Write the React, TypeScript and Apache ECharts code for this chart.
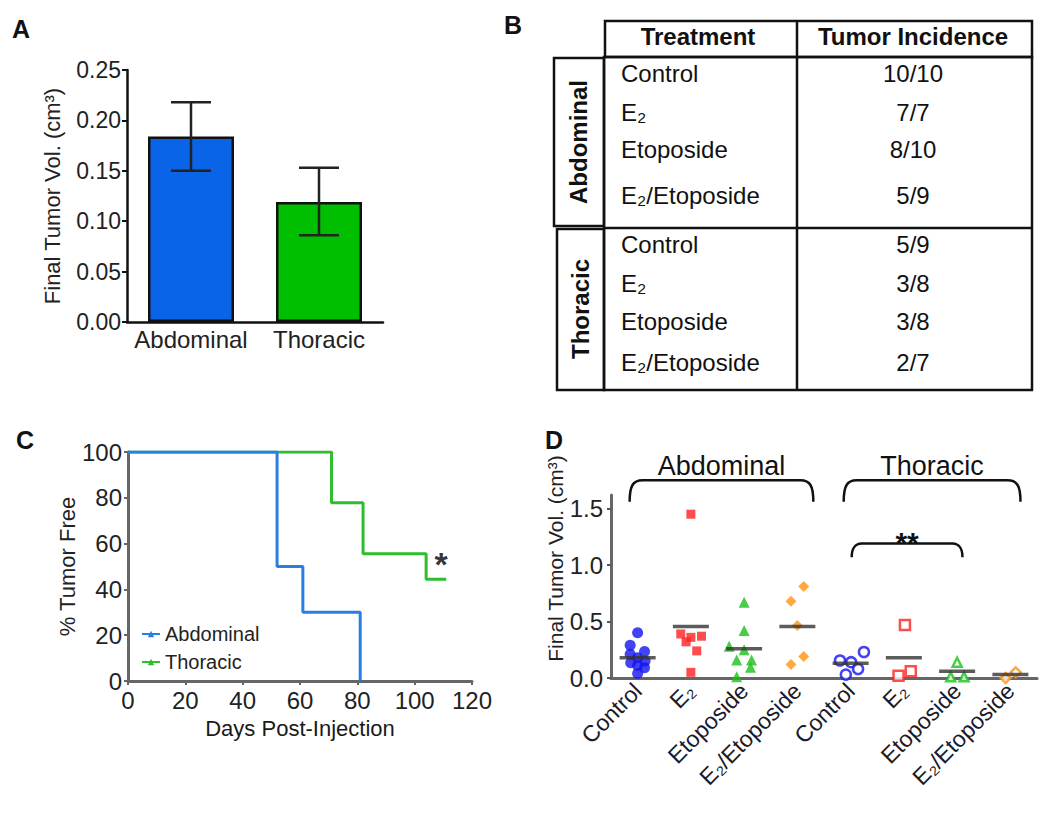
import React, { useEffect, useRef } from "react";
import * as echarts from "echarts";

const FONT = "'Liberation Sans', Arial, Helvetica, sans-serif";

// ---------- Panel A: final tumor volume by site ----------
const siteCategories = ["Abdominal", "Thoracic"];
const siteMeanVolume = [0.184, 0.119];
const siteErrLow = [0.15, 0.086];
const siteErrHigh = [0.218, 0.153];
const siteColors = ["#0a64e8", "#00be00"];

// ---------- Panel B: tumor incidence table ----------
const tableHeaders = ["Treatment", "Tumor Incidence"];
const tableGroups = ["Abdominal", "Thoracic"];
const tableTreatments = ["Control", "E₂", "Etoposide", "E₂/Etoposide"];
const abdominalIncidence = ["10/10", "7/7", "8/10", "5/9"];
const thoracicIncidence = ["5/9", "3/8", "3/8", "2/7"];

// ---------- Panel C: % tumor free over time ----------
const abdominalDays = [0, 52, 61, 81];
const abdominalFree = [100, 50, 30, 0];
const thoracicDays = [0, 71, 82, 104, 111];
const thoracicFree = [100, 77.8, 55.6, 44.4, 44.4];
const starPoint = [109.2, 51];

// ---------- Panel D: final tumor volume per treatment ----------
const groupLabels = ["Control", "E₂", "Etoposide", "E₂/Etoposide", "Control", "E₂", "Etoposide", "E₂/Etoposide"];
const volAbdControl = [0.4, 0.29, 0.235, 0.21, 0.18, 0.15, 0.135, 0.11, 0.09, 0.04];
const jitAbdControl = [0, -0.14, 0.13, -0.14, 0, 0.14, -0.13, 0, 0.13, 0];
const volAbdE2 = [1.45, 0.39, 0.37, 0.36, 0.32, 0.24, 0.05];
const jitAbdE2 = [0, -0.19, 0.2, 0, -0.09, 0.11, 0];
const volAbdEto = [0.67, 0.42, 0.28, 0.25, 0.16, 0.16, 0.095, 0.01];
const jitAbdEto = [0, 0, -0.28, 0, -0.14, 0.14, 0.12, -0.14];
const volAbdE2Eto = [0.81, 0.68, 0.465, 0.19, 0.12];
const jitAbdE2Eto = [0.12, -0.12, 0, 0.12, -0.12];
const volThControl = [0.23, 0.155, 0.14, 0.08, 0.03];
const jitThControl = [0.25, -0.2, 0.01, 0.14, -0.09];
const volThE2 = [0.47, 0.06, 0.02];
const jitThE2 = [0.02, 0.13, -0.1];
const volThEto = [0.14, 0.01, 0.01];
const jitThEto = [0, -0.12, 0.13];
const volThE2Eto = [0.05, 0.0];
const jitThE2Eto = [0.1, -0.09];
const groupMeans = [0.18, 0.455, 0.26, 0.455, 0.13, 0.18, 0.06, 0.03];
const yTicksD = [0, 0.5, 1.0, 1.5];

const bracketLabels = ["Abdominal", "Thoracic", "**"];
const bracketX0 = [-0.15, 3.87, 4.02];
const bracketX1 = [3.3, 7.19, 6.1];
const bracketTop = [1.75, 1.75, 1.19];
const bracketEnd = [1.56, 1.56, 1.07];

const dColors = { blue: "#1414ee", red: "#ff2020", green: "#19c219", orange: "#ff9414" };

function buildTable() {
  const els: any[] = [];
  const stroke = { stroke: "#111", lineWidth: 2.5, fill: "none" };
  els.push({ type: "rect", shape: { x: 605, y: 21, width: 427, height: 36 }, style: stroke });
  els.push({ type: "rect", shape: { x: 604, y: 57, width: 428, height: 333 }, style: stroke });
  els.push({ type: "line", shape: { x1: 797, y1: 21, x2: 797, y2: 390 }, style: stroke });
  els.push({ type: "line", shape: { x1: 604, y1: 228, x2: 1032, y2: 228 }, style: stroke });
  els.push({ type: "rect", shape: { x: 554, y: 58, width: 50, height: 168 }, style: stroke });
  els.push({ type: "rect", shape: { x: 557, y: 229, width: 47, height: 161 }, style: stroke });
  const hs = { fontFamily: FONT, fontSize: 24, fontWeight: "bold", fill: "#111", align: "center", verticalAlign: "middle" };
  els.push({ type: "text", x: 698, y: 36, style: { ...hs, text: tableHeaders[0] } });
  els.push({ type: "text", x: 913, y: 36, style: { ...hs, text: tableHeaders[1] } });
  const groupCenters = [[578, 142], [580, 309]];
  tableGroups.forEach((g, i) => {
    els.push({
      type: "text", x: groupCenters[i][0], y: groupCenters[i][1], rotation: Math.PI / 2,
      style: { ...hs, text: g },
    });
  });
  const rowY = [[73, 112, 149, 195], [244, 283, 321, 362]];
  const inc = [abdominalIncidence, thoracicIncidence];
  const ts = { fontFamily: FONT, fontSize: 24, fill: "#111", verticalAlign: "middle" };
  for (let g = 0; g < 2; g++) {
    tableTreatments.forEach((t, r) => {
      els.push({ type: "text", x: 621, y: rowY[g][r], style: { ...ts, text: t, align: "left" } });
      els.push({ type: "text", x: 913, y: rowY[g][r], style: { ...ts, text: inc[g][r], align: "center" } });
    });
  }
  return els;
}

function panelLetter(t: string, x: number, y: number) {
  return { type: "text", x, y, style: { text: t, fontFamily: FONT, fontSize: 25, fontWeight: "bold", fill: "#111" } };
}

function scatterSeries(name: string, cat: number, vals: number[], jit: number[], symbol: string, size: number, color: string, open: boolean) {
  return {
    name,
    type: "scatter",
    xAxisIndex: 3,
    yAxisIndex: 2,
    symbol,
    symbolSize: size,
    itemStyle: open
      ? { color: "#ffffff", borderColor: color, borderWidth: 2.5 }
      : { color },
    data: vals.map((v, i) => [cat + jit[i], v]),
    z: 3,
  };
}

export default function App() {
  const ref = useRef<HTMLDivElement>(null);
  useEffect(() => {
    if (!ref.current) return;
    const chart = echarts.init(ref.current, null, { renderer: "svg" });
    const axisTextA = { fontFamily: FONT, fontSize: 23, color: "#222" };
    const greyAxis = { color: "#666", width: 3 };

    const option: any = {
      animation: false,
      textStyle: { fontFamily: FONT },
      grid: [
        { left: 127, top: 70, width: 256, height: 252 },
        { left: 128, top: 452, width: 344, height: 229 },
        { left: 611, top: 495, width: 426, height: 183 },
      ],
      xAxis: [
        {
          gridIndex: 0, type: "category", data: siteCategories,
          axisLine: { lineStyle: { color: "#111", width: 2.5 } },
          axisTick: { alignWithLabel: true, length: 5, lineStyle: { color: "#111", width: 2 } },
          axisLabel: { ...axisTextA, fontSize: 24, margin: 5, interval: 0 },
        },
        {
          gridIndex: 1, type: "value", min: 0, max: 120, interval: 20,
          splitLine: { show: false },
          axisLine: { show: true, onZero: false, lineStyle: greyAxis },
          axisTick: { show: true, length: 4, lineStyle: { color: "#666", width: 2 } },
          axisLabel: { ...axisTextA, fontSize: 24, margin: 7 },
          name: "Days Post-Injection", nameLocation: "middle", nameGap: 36,
          nameTextStyle: { fontFamily: FONT, fontSize: 22, color: "#1a1a1a" },
        },
        {
          gridIndex: 2, type: "category", data: groupLabels,
          axisLine: { onZero: false, lineStyle: greyAxis },
          axisTick: { alignWithLabel: true, length: 4, lineStyle: { color: "#555", width: 2 } },
          axisLabel: { fontFamily: FONT, fontSize: 23, color: "#1a1a2a", rotate: 45, interval: 0, margin: 9 },
        },
        {
          gridIndex: 2, type: "value", min: -0.5, max: 7.5, show: false,
        },
      ],
      yAxis: [
        {
          gridIndex: 0, type: "value", min: 0, max: 0.25, interval: 0.05,
          splitLine: { show: false },
          axisLine: { show: true, onZero: false, lineStyle: { color: "#111", width: 2.5 } },
          axisTick: { show: true, length: 5, lineStyle: { color: "#111", width: 2 } },
          axisLabel: { ...axisTextA, margin: 6, formatter: (v: number) => v.toFixed(2) },
          name: "Final Tumor Vol. (cm³)", nameLocation: "middle", nameGap: 64,
          nameTextStyle: { fontFamily: FONT, fontSize: 22, color: "#222" },
        },
        {
          gridIndex: 1, type: "value", min: 0, max: 100, interval: 20,
          splitLine: { show: false },
          axisLine: { show: true, onZero: false, lineStyle: greyAxis },
          axisTick: { show: true, length: 4, lineStyle: { color: "#666", width: 2 } },
          axisLabel: { ...axisTextA, fontSize: 24, margin: 6 },
          name: "% Tumor Free", nameLocation: "middle", nameGap: 50,
          nameTextStyle: { fontFamily: FONT, fontSize: 22, color: "#222" },
        },
        {
          gridIndex: 2, type: "value", min: 0, max: 1.62,
          splitLine: { show: false },
          axisLine: { show: true, onZero: false, lineStyle: greyAxis },
          axisTick: { show: true, length: 4, customValues: yTicksD, lineStyle: { color: "#555", width: 2 } },
          axisLabel: { ...axisTextA, fontSize: 24, margin: 8, customValues: yTicksD, formatter: (v: number) => v.toFixed(1) },
          name: "Final Tumor Vol. (cm³)", nameLocation: "middle", nameGap: 44,
          nameTextStyle: { fontFamily: FONT, fontSize: 21, color: "#222", padding: [0, 0, 0, 56] },
        },
      ],
      legend: {
        orient: "vertical", left: 136, top: 619, itemWidth: 18, itemHeight: 8, itemGap: 8,
        data: ["Abdominal", "Thoracic"],
        textStyle: { fontFamily: FONT, fontSize: 20, color: "#222" },
        selectedMode: false,
      },
      graphic: [
        panelLetter("A", 12, 16),
        panelLetter("B", 504, 12),
        panelLetter("C", 16, 427),
        panelLetter("D", 545, 427),
        ...buildTable(),
      ],
      series: [
        {
          name: "Final tumor volume",
          type: "bar", xAxisIndex: 0, yAxisIndex: 0, barWidth: 86,
          data: siteMeanVolume.map((v, i) => ({ value: v, itemStyle: { color: siteColors[i] } })),
          itemStyle: { borderColor: "#111", borderWidth: 2.5 },
        },
        {
          name: "SEM", type: "custom", xAxisIndex: 0, yAxisIndex: 0, z: 5,
          data: siteCategories.map((_, i) => [i, siteErrLow[i], siteErrHigh[i]]),
          renderItem: (params: any, api: any) => {
            const i = api.value(0);
            const lo = api.coord([i, api.value(1)]);
            const hi = api.coord([i, api.value(2)]);
            const hw = 20;
            const style = { stroke: "#222", lineWidth: 2.5 };
            return {
              type: "group",
              children: [
                { type: "line", shape: { x1: lo[0], y1: lo[1], x2: hi[0], y2: hi[1] }, style },
                { type: "line", shape: { x1: lo[0] - hw, y1: lo[1], x2: lo[0] + hw, y2: lo[1] }, style },
                { type: "line", shape: { x1: hi[0] - hw, y1: hi[1], x2: hi[0] + hw, y2: hi[1] }, style },
              ],
            };
          },
        },
        {
          name: "Abdominal", type: "line", xAxisIndex: 1, yAxisIndex: 1, step: "end",
          showSymbol: false, symbol: "triangle", symbolSize: 6,
          data: abdominalDays.map((d, i) => [d, abdominalFree[i]]),
          lineStyle: { color: "#2a7de1", width: 3 }, itemStyle: { color: "#2a7de1" }, z: 3,
        },
        {
          name: "Thoracic", type: "line", xAxisIndex: 1, yAxisIndex: 1, step: "end",
          showSymbol: false, symbol: "triangle", symbolSize: 6,
          data: thoracicDays.map((d, i) => [d, thoracicFree[i]]),
          lineStyle: { color: "#2ebd2e", width: 3 }, itemStyle: { color: "#2ebd2e" }, z: 2,
        },
        {
          name: "significance C", type: "scatter", xAxisIndex: 1, yAxisIndex: 1,
          symbolSize: 1, itemStyle: { color: "rgba(0,0,0,0)" },
          data: [starPoint],
          label: { show: true, position: "inside", formatter: "*", fontFamily: FONT, fontSize: 34, fontWeight: "bold", color: "#000" },
        },
        scatterSeries("Abd Control", 0, volAbdControl, jitAbdControl, "circle", 11, dColors.blue, false),
        scatterSeries("Abd E2", 1, volAbdE2, jitAbdE2, "rect", 9, dColors.red, false),
        scatterSeries("Abd Etoposide", 2, volAbdEto, jitAbdEto, "triangle", 11, dColors.green, false),
        scatterSeries("Abd E2/Etoposide", 3, volAbdE2Eto, jitAbdE2Eto, "diamond", 11, dColors.orange, false),
        scatterSeries("Th Control", 4, volThControl, jitThControl, "circle", 10, dColors.blue, true),
        scatterSeries("Th E2", 5, volThE2, jitThE2, "rect", 10, dColors.red, true),
        scatterSeries("Th Etoposide", 6, volThEto, jitThEto, "triangle", 9, dColors.green, true),
        scatterSeries("Th E2/Etoposide", 7, volThE2Eto, jitThE2Eto, "diamond", 10, dColors.orange, true),
        {
          name: "Means", type: "scatter", xAxisIndex: 3, yAxisIndex: 2,
          symbol: "rect", symbolSize: [36, 3.5], itemStyle: { color: "#333" }, z: 4,
          data: groupMeans.map((m, i) => [i, m]),
        },
        {
          name: "Brackets", type: "custom", xAxisIndex: 3, yAxisIndex: 2, clip: false, z: 5,
          data: bracketLabels.map((_, i) => [bracketX0[i], bracketX1[i], bracketTop[i], bracketEnd[i]]),
          renderItem: (params: any, api: any) => {
            const idx = params.dataIndex;
            const pL = api.coord([api.value(0), api.value(3)]);
            const pT = api.coord([api.value(0), api.value(2)]);
            const pR = api.coord([api.value(1), api.value(2)]);
            const pRE = api.coord([api.value(1), api.value(3)]);
            const rx = idx === 2 ? 10 : 13;
            const yT = pT[1];
            const d =
              `M${pL[0]},${pL[1]} C${pL[0]},${yT + 6} ${pL[0] + 3},${yT} ${pL[0] + rx},${yT} ` +
              `L${pR[0] - rx},${yT} C${pR[0] - 3},${yT} ${pR[0]},${yT + 6} ${pR[0]},${pRE[1]}`;
            const isStar = idx === 2;
            return {
              type: "group",
              children: [
                { type: "path", shape: { pathData: d }, style: { fill: "none", stroke: "#111", lineWidth: 2.5 } },
                {
                  type: "text", x: (pL[0] + pR[0]) / 2, y: isStar ? yT - 1 : yT - 14,
                  style: {
                    text: bracketLabels[idx], fontFamily: FONT, fontSize: isStar ? 30 : 27,
                    fontWeight: isStar ? "bold" : "normal", fill: "#111", align: "center", verticalAlign: "middle",
                  },
                },
              ],
            };
          },
        },
      ],
    };
    chart.setOption(option);
    return () => chart.dispose();
  }, []);
  return <div ref={ref} style={{ position: "absolute", left: 0, top: 0, width: 1050, height: 820 }} />;
}
